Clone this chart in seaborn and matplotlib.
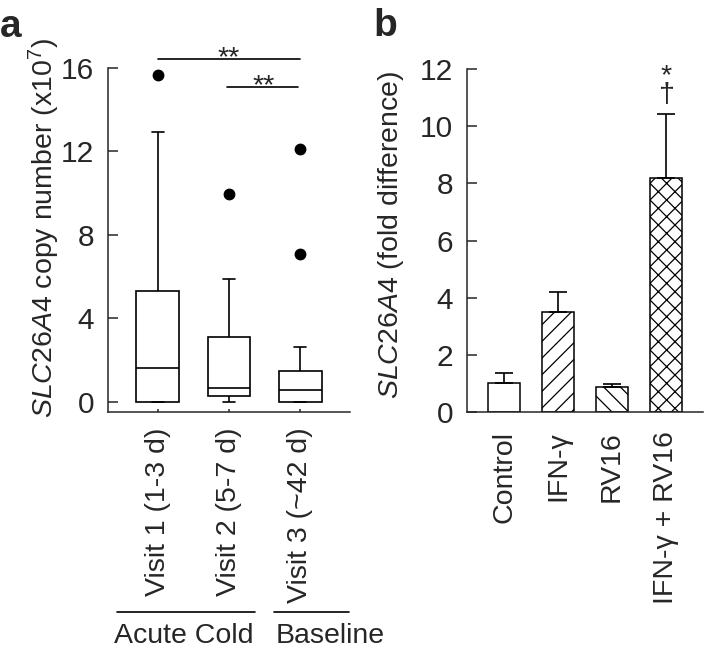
import numpy as np
import pandas as pd
import matplotlib
matplotlib.use("Agg")
import matplotlib.pyplot as plt
import seaborn as sns

# ---------------- data ----------------
# Panel a: box statistics (x10^7 copies)
visit_labels = ['Visit 1 (1-3 d)', 'Visit 2 (5-7 d)', 'Visit 3 (~42 d)']
whisker_low = [0.0, 0.0, 0.0]
q1 = [0.0, 0.29, 0.0]
median = [1.65, 0.67, 0.59]
q3 = [5.33, 3.10, 1.47]
whisker_high = [12.93, 5.87, 2.64]
outliers = [[15.68], [9.97], [7.09, 12.13]]
y_ticks_a = [0, 4, 8, 12, 16]

# Panel b: mean fold difference and upper error
treatments = ['Control', 'IFN-γ', 'RV16', 'IFN-γ + RV16']
fold_mean = [1.01, 3.51, 0.87, 8.17]
fold_err = [0.35, 0.69, 0.12, 2.27]
bar_hatches = ['', '//', '\\\\', 'xx']
y_ticks_b = [0, 2, 4, 6, 8, 10, 12]

# ---------------- style ----------------
sns.set_style("ticks")
plt.rcParams['font.family'] = ['Liberation Sans', 'DejaVu Sans']
plt.rcParams['mathtext.fontset'] = 'custom'
plt.rcParams['mathtext.rm'] = 'Liberation Sans'
plt.rcParams['mathtext.it'] = 'Liberation Sans:italic'
plt.rcParams['hatch.linewidth'] = 0.9
plt.rcParams['axes.linewidth'] = 1.1

FS = 20.5
TFS = 21.5

fig = plt.figure(figsize=(7.15, 6.55), dpi=100)
W, H = 715.0, 655.0

# ---------------- panel a ----------------
axa = fig.add_axes([108 / W, 1 - 412 / H, 242 / W, 344 / H])

# Build a sample per group whose quartiles/whiskers equal the read statistics
rows = []
for i, lab in enumerate(visit_labels):
    tail = [whisker_high[i]] * (3 - len(outliers[i])) + outliers[i]
    sample = [whisker_low[i]] + [q1[i]] * 3 + [median[i]] * 3 + [q3[i]] * 3 + tail
    for v in sample:
        rows.append({'visit': lab, 'copies': v})
df_a = pd.DataFrame(rows)

sns.boxplot(data=df_a, x='visit', y='copies', order=visit_labels, ax=axa,
            color='white', linecolor='black', linewidth=1.2, width=0.6,
            whis=1.5, fliersize=7.5, capwidths=0.17,
            flierprops=dict(marker='o', markerfacecolor='black',
                            markeredgecolor='black'))
for p in axa.patches:
    p.set_facecolor('white')
    p.set_edgecolor('black')

axa.set_xlim(-0.70, 2.70)
axa.set_ylim(-0.48, 16)
axa.set_yticks(y_ticks_a)
axa.set_yticklabels([str(t) for t in y_ticks_a], fontsize=TFS)
axa.set_xticks(range(len(visit_labels)))
axa.set_xticklabels(visit_labels, rotation=90, fontsize=FS, ha='center', va='top')
axa.tick_params(axis='y', direction='in', length=7, width=1.1, pad=10)
axa.tick_params(axis='x', direction='in', length=2.5, width=1.1, pad=11)
axa.set_xlabel('')
axa.set_ylabel(r'$\mathit{SLC26A4}$ copy number (x10$^{7}$)', fontsize=FS)
axa.yaxis.set_label_coords(-0.19, 0.535)
sns.despine(ax=axa)

# significance bars
axa.plot([0, 2], [16.43, 16.43], color='black', lw=1.2, clip_on=False)
axa.text(1.0, 16.12, '**', ha='center', va='baseline', fontsize=FS, clip_on=False)
axa.plot([0.97, 1.97], [15.09, 15.09], color='black', lw=1.2, clip_on=False)
axa.text(1.48, 14.78, '**', ha='center', va='baseline', fontsize=FS, clip_on=False)

# group annotations below the tick labels
xt = axa.get_xaxis_transform()
ya_line = (412 - 612) / 344.0
ya_text = (412 - 643) / 344.0
axa.plot([-0.58, 1.37], [ya_line, ya_line], color='black', lw=1.2,
         transform=xt, clip_on=False)
axa.plot([1.63, 2.68], [ya_line, ya_line], color='black', lw=1.2,
         transform=xt, clip_on=False)
axa.text(0.36, ya_text, 'Acute Cold', ha='center', va='baseline',
         fontsize=FS, transform=xt, clip_on=False)
axa.text(1.66, ya_text, 'Baseline', ha='left', va='baseline',
         fontsize=FS, transform=xt, clip_on=False)

# ---------------- panel b ----------------
axb = fig.add_axes([467 / W, 1 - 412 / H, 236 / W, 343 / H])
df_b = pd.DataFrame({'treatment': treatments, 'fold': fold_mean})
sns.barplot(data=df_b, x='treatment', y='fold', order=treatments, ax=axb,
            color='white', edgecolor='black', linewidth=1.1, width=0.6,
            errorbar=None)
for p, h in zip(axb.patches, bar_hatches):
    p.set_facecolor('white')
    p.set_edgecolor('black')
    p.set_hatch(h)

xpos = np.arange(len(treatments))
axb.errorbar(xpos, fold_mean, yerr=[np.zeros(len(fold_err)), fold_err],
             fmt='none', ecolor='black', elinewidth=1.2, capsize=6.5,
             capthick=1.2, zorder=1)

axb.set_xlim(-0.69, 3.69)
axb.set_ylim(0, 12)
axb.set_yticks(y_ticks_b)
axb.set_yticklabels([str(t) for t in y_ticks_b], fontsize=TFS)
axb.set_xticks(xpos)
axb.set_xticklabels(treatments, rotation=90, fontsize=FS, ha='center', va='top')
axb.tick_params(axis='y', direction='in', length=7, width=1.1, pad=10)
axb.tick_params(axis='x', direction='in', length=2.5, width=1.1, pad=14)
axb.set_xlabel('')
axb.set_ylabel(r'$\mathit{SLC26A4}$ (fold difference)', fontsize=FS)
axb.yaxis.set_label_coords(-0.26, 0.515)
sns.despine(ax=axb)

# significance marks (asterisk above dagger) as one text
axb.text(3, 10.85, '*\n†', ha='center', va='baseline', fontsize=FS,
         linespacing=0.62, clip_on=False)

# panel letters
fig.text(0 / W, 1 - 37 / H, 'a', fontsize=28, fontweight='bold', va='baseline')
fig.text(373 / W, 1 - 36 / H, 'b', fontsize=28, fontweight='bold', va='baseline')

fig.savefig('out.png', dpi=100)
